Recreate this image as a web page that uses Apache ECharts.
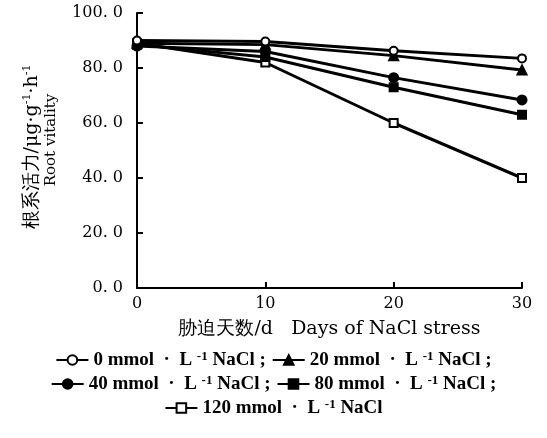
<!DOCTYPE html>
<html><head><meta charset="utf-8">
<script src="https://cdn.jsdelivr.net/npm/echarts@6/dist/echarts.min.js"></script>
<style>html,body{margin:0;padding:0;background:#fff}#c{width:547px;height:438px}</style>
</head><body><div id="c"></div>
<script>
const days = [0, 10, 20, 30];
const names = ['0 mmol · L⁻¹ NaCl;', '20 mmol · L⁻¹ NaCl;', '40 mmol · L⁻¹ NaCl;', '80 mmol · L⁻¹ NaCl;', '120 mmol · L⁻¹ NaCl'];
const s0 = [90, 89.6, 86.3, 83.5];
const s20 = [89, 88.5, 84.5, 79.3];
const s40 = [88, 86, 76.5, 68.4];
const s80 = [88.5, 84, 73, 63];
const s120 = [89, 82, 60, 40];
const yTicks = [0, 20, 40, 60, 80, 100];

const F = '"DejaVu Serif",serif';
const T = '"Liberation Serif","Times New Roman",serif';
const symbols = ['emptyCircle', 'triangle', 'circle', 'rect', 'emptyRect'];
const sizes = [8, 9, 9, 8, 8];
const data = [s0, s20, s40, s80, s120];
const chart = echarts.init(document.getElementById('c'));
const series = data.map((d, i) => ({
  name: names[i], type: 'line',
  data: days.map((x, j) => [x, d[j]]),
  symbol: symbols[i], symbolSize: sizes[i],
  lineStyle: {color: '#000', width: 3},
  itemStyle: {color: '#000', borderColor: '#000', borderWidth: 2},
  z: 10 - i
}));
const legendCommon = {
  left: 'center', itemWidth: 32, itemHeight: 12, itemGap: 6,
  textStyle: {fontFamily: T, fontSize: 19, color: '#000', fontWeight: 'bold',
    rich: {a: {fontFamily: T, fontSize: 19, fontWeight: 'bold', color: '#000'},
           s: {fontFamily: T, fontSize: 13, fontWeight: 'bold', color: '#000', verticalAlign: 'top', padding: [0, 0, 7, 0]}}},
  formatter: n => {
    const p = n.split('⁻¹');
    return '{a|' + p[0].replace(' · L', '  ·  L ') + '}{s|-1}{a|' + p[1].replace(';', ' ;') + '}';
  },
  selectedMode: false
};
chart.setOption({
  animation: false,
  grid: {left: 137, right: 25, top: 13, bottom: 150},
  xAxis: {
    type: 'value', min: 0, max: 30, interval: 10,
    axisLine: {show: true, lineStyle: {color: '#000', width: 2}},
    axisTick: {show: true, inside: true, length: 6, lineStyle: {color: '#000', width: 2}},
    axisLabel: {fontFamily: F, fontSize: 16, color: '#000', margin: 8},
    splitLine: {show: false},
    name: '胁迫天数/d   Days of NaCl stress', nameLocation: 'middle', nameGap: 32,
    nameTextStyle: {fontFamily: F, fontSize: 19, color: '#000'}
  },
  yAxis: {
    type: 'value', min: 0, max: 100, interval: 20,
    axisLine: {show: true, lineStyle: {color: '#000', width: 2}},
    axisTick: {show: true, inside: true, length: 6, lineStyle: {color: '#000', width: 2}},
    axisLabel: {fontFamily: F, fontSize: 16, color: '#000', margin: 14, formatter: v => yTicks.includes(v) ? v.toFixed(1).replace('.', '. ') : ''},
    splitLine: {show: false}
  },
  legend: [
    Object.assign({top: 345, data: [names[0], names[1]]}, legendCommon),
    Object.assign({top: 369, data: [names[2], names[3]]}, legendCommon),
    Object.assign({top: 393, data: [names[4]]}, legendCommon)
  ],
  graphic: [
    {type: 'text', x: 32, y: 147, rotation: Math.PI / 2, style: {
      text: '{a|根系活力/μg·g}{s|-1}{a|·h}{s|-1}',
      rich: {a: {fontFamily: F, fontSize: 19, color: '#000'}, s: {fontFamily: F, fontSize: 11, color: '#000', verticalAlign: 'top', padding: [0, 0, 9, 0]}},
      align: 'center', verticalAlign: 'middle'}},
    {type: 'text', x: 51, y: 140, rotation: Math.PI / 2, style: {text: 'Root vitality', font: '15px ' + F, fill: '#000', align: 'center', verticalAlign: 'middle'}}
  ],
  series
});
</script></body></html>
